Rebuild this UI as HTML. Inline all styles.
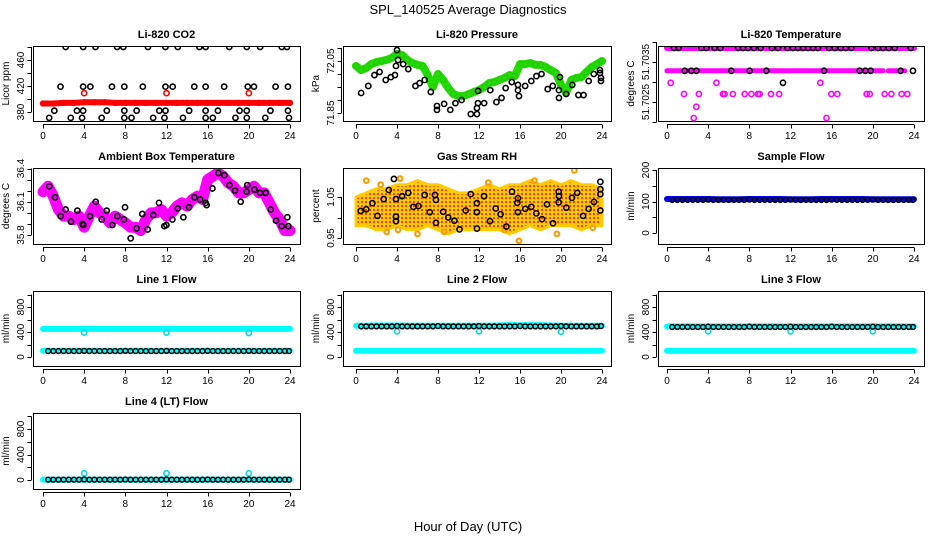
<!DOCTYPE html>
<html><head><meta charset="utf-8"><style>
html,body{margin:0;padding:0;background:#fff;}
svg{display:block;font-family:"Liberation Sans",Arial,sans-serif;}
</style></head><body>
<svg id="chart" width="936" height="540" viewBox="0 0 936 540">
<text x="468" y="14" text-anchor="middle" font-size="13">SPL_140525  Average Diagnostics</text>
<text x="468" y="531" text-anchor="middle" font-size="13">Hour of Day (UTC)</text>
</svg>
<script>
// ---------- data ----------
const xTicks = [0,4,8,12,16,20,24];
const hours25 = [0,1,2,3,4,5,6,7,8,9,10,11,12,13,14,15,16,17,18,19,20,21,22,23,24];
const hours49 = [0,0.5,1,1.5,2,2.5,3,3.5,4,4.5,5,5.5,6,6.5,7,7.5,8,8.5,9,9.5,10,10.5,11,11.5,12,12.5,13,13.5,14,14.5,15,15.5,16,16.5,17,17.5,18,18.5,19,19.5,20,20.5,21,21.5,22,22.5,23,23.5,24];
const halfHours48 = [0.5,1,1.5,2,2.5,3,3.5,4,4.5,5,5.5,6,6.5,7,7.5,8,8.5,9,9.5,10,10.5,11,11.5,12,12.5,13,13.5,14,14.5,15,15.5,16,16.5,17,17.5,18,18.5,19,19.5,20,20.5,21,21.5,22,22.5,23,23.5,23.9];
const outlierHours = [4,12,20];

// CO2
const co2Red = [393,393,394,394,395,395,395,394,394,394,394,394,394,394,394,394,394,394,394,394,394,394,394,394,394];
const co2RedOutliers = [409,409,409];
const co2TopHours = [2.2,3.9,5.1,7.2,7.8,10.2,11.9,13.1,15.2,15.8,18.1,19.8,21.1,23.2,23.7];
const co2TopVals = [480,480,480,480,480,480,480,480,480,480,480,480,480,480,480];
const co2MidHours = [1.7,3.9,4.6,6.7,7.9,9.7,11.9,12.6,14.7,15.8,17.6,19.9,20.5,22.6,23.8];
const co2MidVals = [419,419,419,419,419,419,419,419,419,419,419,419,419,419,419];
const co2LowHours = [1.1,3.3,3.9,6.2,7.9,9.1,11.3,11.9,14.2,15.8,17.0,19.1,19.8,22.1,23.8];
const co2LowVals = [382,382,382,382,382,382,382,382,382,382,382,382,382,382,382];
const co2BotHours = [0.6,2.7,3.8,5.7,7.9,8.6,10.7,11.8,13.6,15.8,16.5,18.7,19.8,21.6,23.9];
const co2BotVals = [371,371,371,371,371,371,371,371,371,371,371,371,371,371,371];

// Pressure
const presGreen = [72.031,72.015,72.023,72.038,72.046,72.05,72.054,72.062,72.077,72.073,72.054,72.042,72.035,72.031,71.996,71.95,72.0,71.977,71.946,71.923,71.915,71.915,71.923,71.931,71.938,71.95,71.965,71.969,71.977,71.985,71.996,71.992,72.038,72.038,72.042,72.035,72.035,72.027,72.015,72.004,71.958,71.927,71.977,71.985,71.988,72.008,72.027,72.038,72.05];
const presBlackHours = [0.5,1.2,1.8,2.3,2.9,3.4,3.8,3.9,4.0,4.1,4.6,5.1,5.8,6.2,6.7,7.3,7.9,7.9,8.6,9.2,9.7,10.3,11.2,11.8,11.8,11.9,11.9,12.5,13.1,13.7,14.2,14.6,15.2,15.8,15.8,15.9,16.5,17.1,17.6,18.1,18.7,19.2,19.8,19.8,19.9,20.5,21.1,21.7,22.2,22.7,23.2,23.8,23.8,23.9,23.9];
const presBlackVals = [71.927,71.954,71.996,72.008,71.977,71.988,71.996,72.031,72.092,72.054,72.038,72.019,71.954,71.965,71.977,71.931,71.877,71.862,71.885,71.862,71.888,71.9,71.846,71.846,71.869,71.888,71.935,71.888,71.938,71.892,71.908,71.946,71.969,71.958,71.938,71.915,71.954,71.973,71.992,72.0,71.942,71.954,71.938,71.908,71.988,71.923,71.958,71.919,71.919,71.973,72.0,72.015,72.004,71.985,71.973];

// Li-820 temperature
const tempTopRunStart = [0];
const tempTopRunEnd = [24];
const tempTopVal = 51.70385;
const tempMidRunStart = [0,21.5];
const tempMidRunEnd = [21,23.1];
const tempMidVal = 51.70328;
const tempMagHours = [0.36,4.8,14.9,1.65,3.1,5.44,5.6,6.4,7.55,8.2,8.84,9.0,10.1,10.9,15.97,16.55,19.4,19.7,21.15,21.8,22.8,23.35,2.85,2.6,15.5];
const tempMagVals = [51.70298,51.70298,51.70298,51.7027,51.7027,51.7027,51.7027,51.7027,51.7027,51.7027,51.7027,51.7027,51.7027,51.7027,51.7027,51.7027,51.7027,51.7027,51.7027,51.7027,51.7027,51.7027,51.70238,51.7021,51.7021];
const tempBlackTopHours = [0.68,1.13,3.34,3.82,4.63,5.18,6.9,7.39,7.87,8.45,9.1,10.2,10.79,11.7,12.24,12.73,13.22,13.7,14.19,14.67,15.74,16.3,16.88,17.37,17.91,19.86,20.5,20.99,21.54,22.13,23.68];
const tempBlackMidHours = [1.72,2.36,2.85,6.25,8.03,9.65,15.26,18.72,19.27,19.79,22.7,23.9];
const tempBlackOtherHours = [11.27];
const tempBlackOtherVals = [51.70298];

// Ambient box temperature
const ambMagenta = [36.19,36.24,36.15,36.03,35.97,35.97,35.94,35.97,35.87,35.97,36.06,36.0,35.97,35.91,35.97,35.94,35.91,35.87,35.87,35.84,35.94,36.0,36.0,36.03,35.97,36.0,36.06,36.09,36.06,36.12,36.15,36.12,36.3,36.33,36.36,36.33,36.27,36.24,36.18,36.18,36.21,36.24,36.18,36.18,36.09,36.0,35.94,35.84,35.84];
const ambBlackHours = [0.62,1.17,1.72,2.2,2.72,3.34,3.86,3.92,4.57,5.12,5.7,6.19,6.74,7.22,7.87,7.97,8.52,9.1,10.17,9.65,10.72,11.27,11.79,11.99,12.57,13.09,13.64,14.19,14.71,15.26,15.81,15.9,16.46,17.04,17.62,18.11,18.66,19.21,19.79,19.85,20.54,21.09,21.64,22.13,22.64,23.19,23.74,23.84];
const ambBlackVals = [36.24,36.14,35.97,36.03,35.92,36.02,35.9,35.89,35.97,36.1,35.94,36.02,35.89,35.97,35.94,36.05,35.77,35.86,35.85,35.99,35.98,36.09,35.88,35.89,35.94,36.04,35.96,36.05,36.14,36.12,36.09,36.07,36.22,36.36,36.34,36.25,36.2,36.1,36.19,36.25,36.21,36.18,36.18,36.03,35.93,35.88,35.96,35.88];

// Gas stream RH
const rhUpper = [1.05,1.06,1.07,1.07,1.08,1.08,1.09,1.08,1.08,1.07,1.06,1.06,1.07,1.08,1.07,1.08,1.08,1.09,1.08,1.09,1.08,1.09,1.08,1.08,1.07];
const rhLower = [0.98,0.98,0.97,0.97,0.98,0.97,0.97,0.98,0.97,0.96,0.97,0.97,0.97,0.97,0.97,0.96,0.97,0.98,0.97,0.98,0.98,0.98,0.97,0.98,0.98];
const rhOutHours = [1.0,4.3,4.1,6.0,15.9,21.3,3.0,8.6,14.5,19.6,23.1,2.4,12.9,17.4];
const rhOutVals = [1.09,1.095,0.97,0.96,0.943,1.115,0.965,0.965,0.97,0.96,0.975,1.08,1.085,1.09];
const rhBlackHours = [0.46,1.0,1.6,2.1,2.7,3.2,3.7,3.9,3.9,3.9,4.5,5.1,5.6,6.1,6.7,7.2,7.7,7.8,7.8,8.5,9.0,9.6,10.1,10.7,11.19,11.8,11.8,11.8,12.49,13.07,13.63,14.11,14.67,15.22,15.74,15.8,15.8,16.52,17.1,17.59,18.15,18.63,19.22,19.77,19.8,19.77,20.52,21.07,21.59,22.15,22.7,23.22,23.84,23.84,23.84,23.84];
const rhBlackVals = [1.016,1.02,1.035,1.004,1.045,1.067,1.094,1.045,1.002,0.991,1.052,1.06,1.026,1.028,1.055,1.013,1.055,1.043,0.987,1.014,1.0,0.992,0.971,1.017,1.057,1.035,1.013,0.973,1.052,0.991,1.022,1.008,0.978,1.063,1.036,1.047,1.013,1.021,1.026,1.01,0.996,1.032,0.986,1.063,1.052,1.037,1.024,1.048,1.06,1.004,1.021,1.038,1.087,1.069,1.057,1.017];

// Sample flow
const sampleBlue = [108,108,108,108,108,107,107,107,108,108,108,108,107,107,107,108,108,108,108,108,107,107,107,107,107];
const sampleBlack = [105,105,105,105,105,105,105,106,105,105,105,105,105,105,105,106,105,105,105,105,105,105,105,106,105,105,105,105,105,105,105,106,105,105,105,105,105,105,105,106,105,105,105,105,105,105,105,105];

// Line flows
const line1CyanHigh = [450,450,450,450,450,450,450,450,450,450,450,450,450,450,450,450,450,450,450,450,450,450,450,450,450];
const line1CyanLow = [100,100,100,100,100,100,100,100,100,100,100,100,100,100,100,100,100,100,100,100,100,100,100,100,100];
const line1Black = [95,95,95,95,95,95,95,98,95,95,95,95,95,95,95,98,95,95,95,95,95,95,95,98,95,95,95,95,95,95,95,98,95,95,95,95,95,95,95,98,95,95,95,95,95,95,95,95];
const line1Outliers = [390,390,385];

const line2CyanHigh = [500,500,505,505,505,500,500,500,500,500,500,500,500,500,505,510,510,510,510,505,500,500,500,500,500];
const line2CyanLow = [100,100,100,100,100,100,100,100,100,100,100,100,100,100,100,100,100,100,100,100,100,100,100,100,100];
const line2Black = [490,490,490,490,490,490,490,495,490,490,490,490,490,490,490,495,490,490,490,490,490,490,490,495,490,490,490,490,490,490,490,495,490,490,490,490,490,490,490,495,490,490,490,490,490,490,490,495];
const line2Outliers = [410,410,405];

const line3CyanHigh = [490,490,490,490,490,490,490,490,490,490,490,490,490,490,490,490,490,490,490,490,490,490,490,490,490];
const line3CyanLow = [100,100,100,100,100,100,100,100,100,100,100,100,100,100,100,100,100,100,100,100,100,100,100,100,100];
const line3Black = [480,480,480,480,480,480,480,485,480,480,480,480,480,480,480,485,480,480,480,480,480,480,480,485,480,480,480,480,480,480,480,485,480,480,480,480,480,480,480,485,480,480,480,480,480,480,480,480];
const line3Outliers = [410,410,410];

const line4Cyan = [5,5,5,5,5,5,5,5,5,5,5,5,5,5,5,5,5,5,5,5,5,5,5,5,5];
const line4Black = [5,5,5,5,5,5,5,8,5,5,5,5,5,5,5,8,5,5,5,5,5,5,5,8,5,5,5,5,5,5,5,8,5,5,5,5,5,5,5,8,5,5,5,5,5,5,5,5];
const line4Outliers = [105,105,105];

// ---------- drawing ----------
const NS = "http://www.w3.org/2000/svg";
const svg = document.getElementById('chart');
const cols = [{l:33,r:300,h0:43,h24:290},{l:343,r:611,h0:356,h24:602},{l:658,r:924,h0:667,h24:914}];
const rows = [{t:46,b:121},{t:168,b:244},{t:291,b:366},{t:413,b:489}];
let clipId = 0;

function el(tag, attrs, parent){
  const e = document.createElementNS(NS, tag);
  for (const k in attrs) e.setAttribute(k, attrs[k]);
  (parent||svg).appendChild(e);
  return e;
}

function makePanel(name, col, row, title, ylab, v0, p0, v1, p1, ticks, labels){
  const c = cols[col], r = rows[row];
  const g = el('g', {});
  
  
  const xs = h => c.h0 + h*(c.h24-c.h0)/24;
  const ys = v => p0 + (v-v0)*(p1-p0)/(v1-v0);
  const t = el('text', {x:(c.l+c.r)/2, y:r.t-8, 'text-anchor':'middle','font-size':11,'font-weight':'bold'}, g);
  t.textContent = title;
  
  
  // x axis
  const xa = el('g', {'shape-rendering':'crispEdges'}, g);
  
  
  el('line', {x1:xs(0), x2:xs(24), y1:r.b+3.5, y2:r.b+3.5, stroke:'#000','stroke-width':1}, xa);
  xTicks.forEach(h => {
    el('line', {x1:Math.round(xs(h))+0.5, x2:Math.round(xs(h))+0.5, y1:r.b+3.5, y2:r.b+7.5, stroke:'#000','stroke-width':1}, xa);
    const tl = el('text', {x:xs(h), y:r.b+18, 'text-anchor':'middle','font-size':10}, xa);
    tl.textContent = h;
  });
  // y axis
  const ya = el('g', {'shape-rendering':'crispEdges'}, g);
  
  
  const tp = ticks.map(ys);
  el('line', {x1:c.l-1.5, x2:c.l-1.5, y1:Math.min(...tp), y2:Math.max(...tp), stroke:'#000','stroke-width':1}, ya);
  ticks.forEach(v => el('line', {x1:c.l-5.5, x2:c.l-1.5, y1:Math.round(ys(v))+0.5, y2:Math.round(ys(v))+0.5, stroke:'#000','stroke-width':1}, ya));
  labels.forEach(v => {
    const yy = ys(v), xx = c.l-9;
    const tl = el('text', {x:xx, y:yy, 'text-anchor':'middle','font-size':10, transform:`rotate(-90 ${xx} ${yy})`}, ya);
    tl.textContent = v;
  });
  const yt = el('text', {x:c.l-24, y:(r.t+r.b)/2, 'text-anchor':'middle','font-size':10, transform:`rotate(-90 ${c.l-24} ${(r.t+r.b)/2})`}, g);
  yt.textContent = ylab;
  
  
  const id = 'clip' + (clipId++);
  const cp = el('clipPath', {id:id}, g);
  el('rect', {x:c.l, y:r.t, width:c.r-c.l, height:r.b-r.t}, cp);
  const plot = el('g', {'clip-path':`url(#${id})`}, g);
  const box = el('rect', {x:c.l+0.5, y:r.t+0.5, width:c.r-c.l, height:r.b-r.t, fill:'none', stroke:'#000','stroke-width':1,'shape-rendering':'crispEdges'}, g);
  
  
  return {xs, ys, plot};
}

function points(P, hrs, vals, color, name, r, sw){
  const g = el('g', {}, P.plot);
  
  
  hrs.forEach((h,i) => el('circle', {cx:P.xs(h), cy:P.ys(vals[i]), r:r||2.6, fill:'none', stroke:color, 'stroke-width':sw||1.6}, g));
}
function band(P, hrs, vals, color, name, w){
  const pl = el('polyline', {points:hrs.map((h,i)=>P.xs(h)+','+P.ys(vals[i])).join(' '), fill:'none', stroke:color, 'stroke-width':w, 'stroke-linejoin':'round','stroke-linecap':'round'}, P.plot);
  
  
}
function runs(P, starts, ends, val, color, name, w){
  starts.forEach((s,i) => {
    const ln = el('line', {x1:P.xs(s), x2:P.xs(ends[i]), y1:P.ys(val), y2:P.ys(val), stroke:color, 'stroke-width':w, 'stroke-linecap':'round'}, P.plot);
    
    
  });
}
const constArr = (n, v) => Array(n).fill(v);

// Panel 1: CO2
const p1 = makePanel('co2', 0, 0, 'Li-820 CO2', 'Licor ppm', 380, 112, 460, 60, [380,400,420,440,460,480], [380,420,460]);
band(p1, hours25, co2Red, '#f00', 'co2-red-band', 6);
points(p1, hours25, co2Red, '#f00', 'co2-red-points', 2.4, 1.5);
points(p1, outlierHours, co2RedOutliers, '#f00', 'co2-red-outliers');
points(p1, co2TopHours, co2TopVals, '#000', 'co2-black-top');
points(p1, co2MidHours, co2MidVals, '#000', 'co2-black-mid');
points(p1, co2LowHours, co2LowVals, '#000', 'co2-black-low');
points(p1, co2BotHours, co2BotVals, '#000', 'co2-black-bottom');

// Panel 2: pressure
const p2 = makePanel('pressure', 1, 0, 'Li-820 Pressure', 'kPa', 72.05, 61, 71.85, 113, [71.85,71.9,71.95,72.0,72.05,72.1], ['71.85','72.05']);
band(p2, hours49, presGreen, '#22dd00', 'pressure-green-band', 8);
points(p2, hours49, presGreen, '#22cc00', 'pressure-green-points', 2.6, 1.5);
points(p2, presBlackHours, presBlackVals, '#000', 'pressure-black-points');

// Panel 3: Li-820 temperature
const p3 = makePanel('li820-temp', 2, 0, 'Li-820 Temperature', 'degrees C', 51.7035, 62, 51.7025, 102, [51.702,51.7025,51.703,51.7035,51.704], ['51.7025','51.7035']);
runs(p3, tempTopRunStart, tempTopRunEnd, tempTopVal, '#ff00ff', 'temp-magenta-top-run', 6);
runs(p3, tempMidRunStart, tempMidRunEnd, tempMidVal, '#ff00ff', 'temp-magenta-mid-run', 5);
points(p3, tempMagHours, tempMagVals, '#ff00ff', 'temp-magenta-outliers');
points(p3, tempBlackTopHours, constArr(tempBlackTopHours.length, tempTopVal), '#000', 'temp-black-top');
points(p3, tempBlackMidHours, constArr(tempBlackMidHours.length, tempMidVal), '#000', 'temp-black-mid');
points(p3, tempBlackOtherHours, tempBlackOtherVals, '#000', 'temp-black-other');

// Panel 4: ambient box temp
const p4 = makePanel('ambient-temp', 0, 1, 'Ambient Box Temperature', 'degrees C', 36.4, 168.5, 35.8, 235, [35.8,35.9,36.0,36.1,36.2,36.3,36.4], ['35.8','36.1','36.4']);
band(p4, hours49, ambMagenta, '#ff00ff', 'ambient-magenta-band', 11);
points(p4, hours49, ambMagenta, '#ee00ee', 'ambient-magenta-points', 2.6, 1.5);
points(p4, ambBlackHours, ambBlackVals, '#000', 'ambient-black-points');

// Panel 5: RH
const p5 = makePanel('gas-rh', 1, 1, 'Gas Stream RH', 'percent', 1.05, 197, 0.95, 238, [0.95,1.0,1.05], ['0.95','1.05']);
const defs = el('defs', {});
const pat = el('pattern', {id:'rhpat', width:4, height:4, patternUnits:'userSpaceOnUse'}, defs);
el('rect', {x:0, y:0, width:4, height:4, fill:'#ffcc00'}, pat);
el('rect', {x:1, y:1, width:2, height:2, fill:'#ff3300'}, pat);
const rhPoly = el('polygon', {points: hours25.map((h,i)=>p5.xs(h)+','+p5.ys(rhUpper[i])).concat(hours25.slice().reverse().map((h,j)=>p5.xs(h)+','+p5.ys(rhLower[24-j]))).join(' '), fill:'url(#rhpat)', stroke:'#ffcc00', 'stroke-width':3, 'stroke-linejoin':'round'}, p5.plot);


points(p5, rhOutHours, rhOutVals, '#ff9900', 'rh-orange-outliers', 2.4, 2);
points(p5, rhBlackHours, rhBlackVals, '#000', 'rh-black-points');

// Panel 6: sample flow
const p6 = makePanel('sample-flow', 2, 1, 'Sample Flow', 'ml/min', 0, 233, 200, 170, [0,50,100,150,200], [0,100,200]);
band(p6, hours25, sampleBlue, '#0000ee', 'sample-blue-band', 6);
points(p6, halfHours48, sampleBlack, '#000', 'sample-black-points', 2.4, 1.5);

// Row 3 / 4: line flows
const ft = [0,200,400,600,800,1000], fl = [0,400,800];
const p7 = makePanel('line1-flow', 0, 2, 'Line 1 Flow', 'ml/min', 0, 357, 800, 307, ft, fl);
band(p7, hours25, line1CyanHigh, '#00ffff', 'line1-cyan-high', 6);
band(p7, hours25, line1CyanLow, '#00ffff', 'line1-cyan-low', 6);
points(p7, outlierHours, line1Outliers, '#00dddd', 'line1-cyan-outliers');
points(p7, halfHours48, line1Black, '#000', 'line1-black-points', 2.4, 1.5);

const p8 = makePanel('line2-flow', 1, 2, 'Line 2 Flow', 'ml/min', 0, 357, 800, 307, ft, fl);
band(p8, hours25, line2CyanHigh, '#00ffff', 'line2-cyan-high', 6);
band(p8, hours25, line2CyanLow, '#00ffff', 'line2-cyan-low', 6);
points(p8, outlierHours, line2Outliers, '#00dddd', 'line2-cyan-outliers');
points(p8, halfHours48, line2Black, '#000', 'line2-black-points', 2.4, 1.5);

const p9 = makePanel('line3-flow', 2, 2, 'Line 3 Flow', 'ml/min', 0, 357, 800, 307, ft, fl);
band(p9, hours25, line3CyanHigh, '#00ffff', 'line3-cyan-high', 6);
band(p9, hours25, line3CyanLow, '#00ffff', 'line3-cyan-low', 6);
points(p9, outlierHours, line3Outliers, '#00dddd', 'line3-cyan-outliers');
points(p9, halfHours48, line3Black, '#000', 'line3-black-points', 2.4, 1.5);

const p10 = makePanel('line4-flow', 0, 3, 'Line 4 (LT) Flow', 'ml/min', 0, 480, 800, 429, ft, fl);
band(p10, hours25, line4Cyan, '#00ffff', 'line4-cyan-band', 6);
points(p10, outlierHours, line4Outliers, '#00dddd', 'line4-cyan-outliers');
points(p10, halfHours48, line4Black, '#000', 'line4-black-points', 2.4, 1.5);
</script>
</body></html>
